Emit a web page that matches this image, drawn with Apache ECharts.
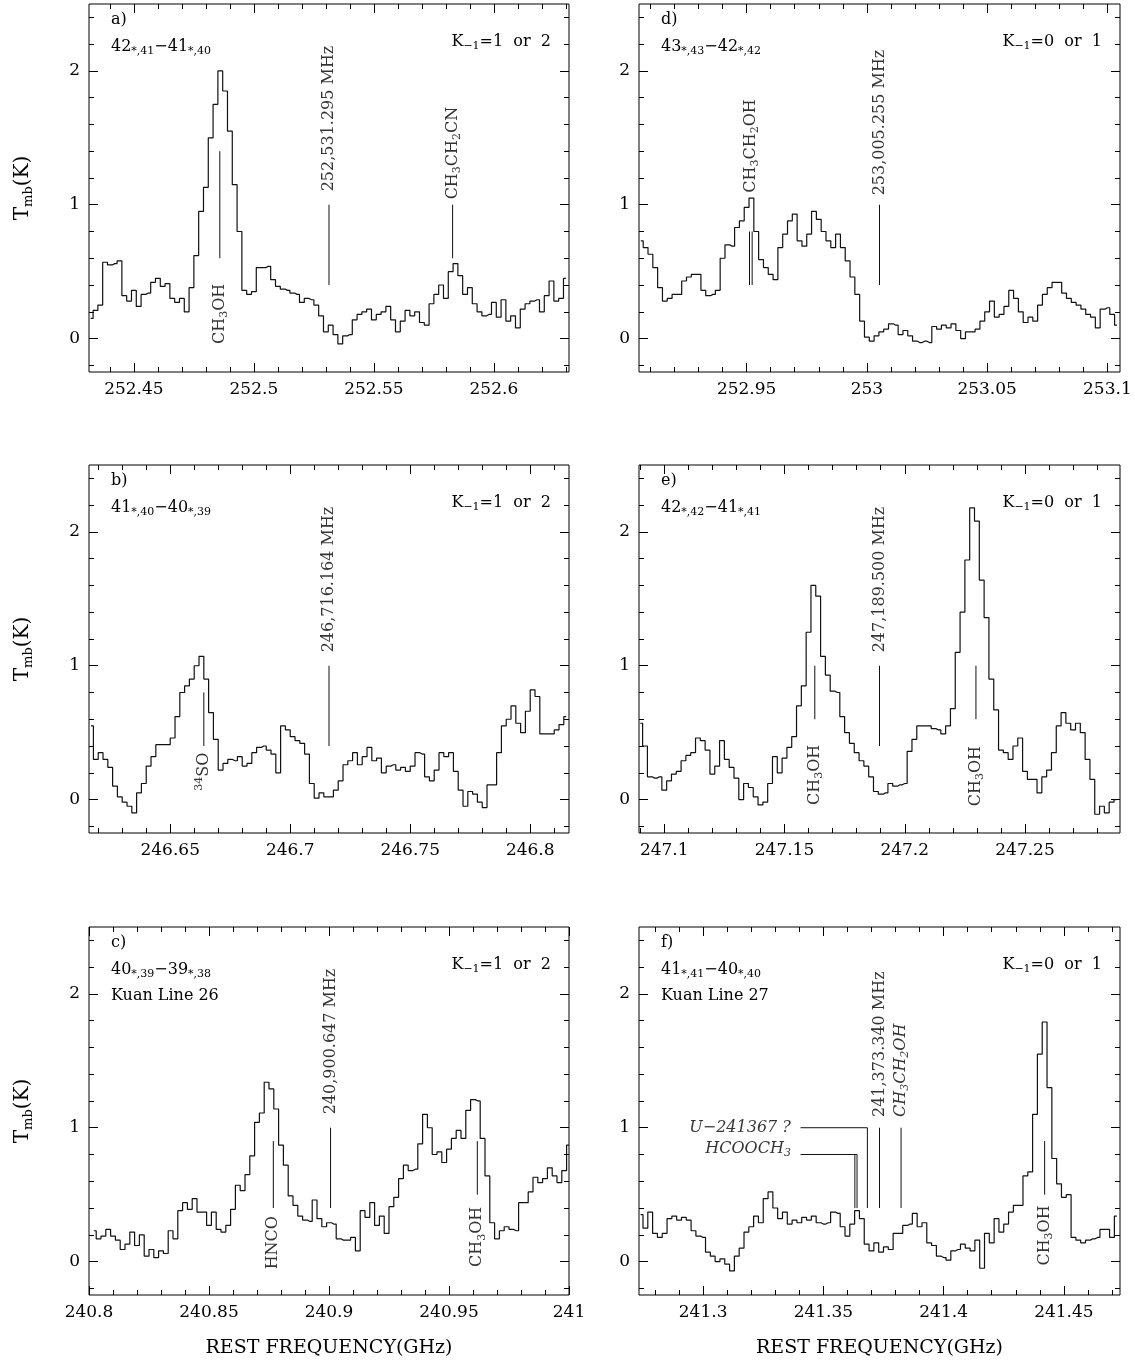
<!DOCTYPE html>
<html>
<head>
<meta charset="utf-8">
<title>Spectra panels a-f</title>
<script src="https://cdn.jsdelivr.net/npm/echarts@6/dist/echarts.min.js"></script>
<style>
  html, body { margin: 0; padding: 0; background: #fff; }
  #chart { width: 1135px; height: 1366px; }
</style>
</head>
<body>
<div id="chart"></div>
<script>
// channel width of every spectrum, GHz
var chanWidth = 0.002;

// y axis (Tmb, K)
var yRange = [-0.25, 2.5];
var yTicks = [0, 1, 2];

// panel a)
var rangeA = [252.4313, 252.6313];
var ticksA = [252.45, 252.5, 252.55, 252.6];
var startA = 252.432;
var specA = [0.15,0.21,0.25,0.57,0.55,0.56,0.58,0.32,0.28,0.36,
  0.24,0.33,0.34,0.42,0.45,0.39,0.41,0.30,0.27,0.30,
  0.20,0.38,0.62,0.95,1.13,1.50,1.75,2.00,1.85,1.55,
  1.15,0.80,0.36,0.33,0.35,0.53,0.53,0.54,0.44,0.39,
  0.37,0.36,0.34,0.33,0.27,0.30,0.29,0.25,0.17,0.05,
  0.10,0.03,-0.04,0.02,0.03,0.14,0.18,0.20,0.22,0.14,
  0.18,0.20,0.24,0.14,0.05,0.13,0.21,0.17,0.20,0.12,
  0.10,0.26,0.33,0.40,0.30,0.50,0.56,0.47,0.33,0.38,
  0.26,0.20,0.17,0.18,0.27,0.16,0.29,0.13,0.17,0.08,
  0.22,0.26,0.28,0.29,0.20,0.32,0.43,0.28,0.30,0.45];
var linesA = [
  [[252.4858, 0.6], [252.4858, 1.4]],
  [[252.531295, 0.4], [252.531295, 1.0]],
  [[252.5828, 0.6], [252.5828, 1.0]]
];
var labelsA = [
  {f: 252.4858, y: 0.41, dir: 'down', text: '{n|CH}{s|3}{n|OH}'},
  {f: 252.531295, y: 1.1, dir: 'up', text: '{n|252,531.295 MHz}'},
  {f: 252.5828, y: 1.04, dir: 'up', text: '{n|CH}{s|3}{n|CH}{s|2}{n|CN}'}
];

// panel d)
var rangeD = [252.90525, 253.10525];
var ticksD = [252.95, 253, 253.05, 253.1];
var startD = 252.906;
var specD = [0.73,0.68,0.63,0.53,0.38,0.28,0.30,0.33,0.33,0.43,
  0.46,0.48,0.48,0.36,0.32,0.33,0.36,0.60,0.70,0.69,
  0.83,0.88,0.98,1.05,0.80,0.59,0.53,0.48,0.44,0.68,
  0.78,0.88,0.93,0.73,0.69,0.78,0.95,0.89,0.80,0.73,
  0.68,0.78,0.68,0.58,0.46,0.33,0.13,0.01,-0.02,0.02,
  0.05,0.07,0.11,0.10,0.03,0.06,0.02,-0.02,-0.03,-0.02,
  -0.03,0.09,0.07,0.10,0.08,0.11,0.06,0.00,0.05,0.05,
  0.07,0.13,0.20,0.28,0.16,0.18,0.24,0.36,0.30,0.20,
  0.12,0.16,0.13,0.25,0.33,0.38,0.42,0.42,0.34,0.30,
  0.27,0.25,0.22,0.18,0.16,0.08,0.22,0.23,0.18,0.10];
var linesD = [
  [[252.9512, 0.4], [252.9512, 0.8]],
  [[252.9523, 0.4], [252.9523, 0.8]],
  [[253.005255, 0.4], [253.005255, 1.0]]
];
var labelsD = [
  {f: 252.9518, y: 1.09, dir: 'up', text: '{n|CH}{s|3}{n|CH}{s|2}{n|OH}'},
  {f: 253.005255, y: 1.07, dir: 'up', text: '{n|253,005.255 MHz}'}
];

// panel b)
var rangeB = [246.61616, 246.81616];
var ticksB = [246.65, 246.7, 246.75, 246.8];
var startB = 246.617;
var specB = [0.55,0.30,0.35,0.30,0.24,0.10,0.02,-0.02,-0.05,-0.10,
  0.05,0.12,0.25,0.32,0.41,0.41,0.41,0.46,0.62,0.80,
  0.85,0.90,1.00,1.07,0.90,0.65,0.45,0.22,0.27,0.30,
  0.29,0.32,0.25,0.27,0.35,0.39,0.40,0.37,0.34,0.20,
  0.55,0.52,0.47,0.44,0.42,0.34,0.12,0.01,0.05,0.02,
  0.02,0.07,0.14,0.26,0.29,0.35,0.26,0.32,0.39,0.29,
  0.31,0.20,0.25,0.26,0.22,0.24,0.21,0.25,0.35,0.34,
  0.17,0.14,0.22,0.35,0.32,0.35,0.21,0.07,-0.05,0.06,
  0.04,-0.02,-0.06,0.11,0.11,0.35,0.55,0.60,0.70,0.57,
  0.50,0.66,0.82,0.77,0.49,0.49,0.49,0.52,0.56,0.62];
var linesB = [
  [[246.664, 0.4], [246.664, 0.8]],
  [[246.716164, 0.4], [246.716164, 1.0]]
];
var labelsB = [
  {f: 246.664, y: 0.35, dir: 'down', text: '{p|34}{n|SO}'},
  {f: 246.716164, y: 1.1, dir: 'up', text: '{n|246,716.164 MHz}'}
];

// panel e)
var rangeE = [247.0895, 247.2895];
var ticksE = [247.1, 247.15, 247.2, 247.25];
var startE = 247.09;
var specE = [0.57,0.40,0.17,0.16,0.17,0.07,0.14,0.19,0.21,0.29,
  0.33,0.35,0.46,0.44,0.37,0.19,0.25,0.44,0.30,0.24,
  0.16,0.00,0.12,0.09,0.02,-0.04,-0.02,0.12,0.32,0.20,
  0.31,0.39,0.47,0.70,0.85,1.25,1.60,1.52,1.07,0.93,
  0.81,0.80,0.62,0.50,0.42,0.35,0.29,0.25,0.17,0.06,
  0.04,0.05,0.12,0.10,0.11,0.12,0.36,0.45,0.55,0.55,
  0.55,0.53,0.52,0.49,0.55,0.68,1.10,1.40,1.79,2.18,
  2.08,1.64,1.36,0.90,0.67,0.37,0.35,0.30,0.40,0.46,
  0.21,0.15,0.15,0.05,0.17,0.22,0.35,0.55,0.65,0.57,
  0.52,0.57,0.50,0.30,0.15,-0.11,-0.05,-0.10,-0.02,0.00];
var linesE = [
  [[247.1626, 0.6], [247.1626, 1.0]],
  [[247.1895, 0.4], [247.1895, 1.0]],
  [[247.2296, 0.6], [247.2296, 1.0]]
];
var labelsE = [
  {f: 247.1626, y: 0.41, dir: 'down', text: '{n|CH}{s|3}{n|OH}'},
  {f: 247.1895, y: 1.1, dir: 'up', text: '{n|247,189.500 MHz}'},
  {f: 247.2296, y: 0.4, dir: 'down', text: '{n|CH}{s|3}{n|OH}'}
];

// panel c)
var rangeC = [240.8, 241.0];
var ticksC = [240.8, 240.85, 240.9, 240.95, 241];
var startC = 240.802;
var specC = [0.23,0.17,0.19,0.24,0.19,0.16,0.09,0.13,0.22,0.12,
  0.20,0.04,0.09,0.03,0.08,0.06,0.23,0.17,0.38,0.44,
  0.39,0.47,0.37,0.37,0.27,0.37,0.24,0.22,0.27,0.39,
  0.57,0.53,0.65,0.79,1.04,1.11,1.34,1.29,1.14,0.87,
  0.72,0.49,0.42,0.34,0.31,0.30,0.46,0.32,0.26,0.29,
  0.28,0.17,0.16,0.16,0.18,0.08,0.38,0.33,0.44,0.27,
  0.34,0.21,0.41,0.48,0.62,0.72,0.68,0.69,0.88,1.10,
  1.00,0.80,0.82,0.74,0.84,0.92,0.98,0.92,1.13,1.21,
  1.20,0.92,0.64,0.29,0.17,0.23,0.26,0.24,0.23,0.44,
  0.44,0.52,0.63,0.59,0.62,0.70,0.64,0.59,0.68,0.87];
var linesC = [
  [[240.8768, 0.4], [240.8768, 0.9]],
  [[240.900647, 0.4], [240.900647, 1.0]],
  [[240.9618, 0.5], [240.9618, 0.9]]
];
var labelsC = [
  {f: 240.8768, y: 0.34, dir: 'down', text: '{n|HNCO}'},
  {f: 240.900647, y: 1.1, dir: 'up', text: '{n|240,900.647 MHz}'},
  {f: 240.9618, y: 0.41, dir: 'down', text: '{n|CH}{s|3}{n|OH}'}
];

// panel f)
var rangeF = [241.27334, 241.47334];
var ticksF = [241.3, 241.35, 241.4, 241.45];
var startF = 241.274;
var specF = [0.35,0.25,0.37,0.21,0.18,0.21,0.32,0.34,0.31,0.33,
  0.31,0.23,0.19,0.18,0.07,0.04,0.00,0.02,-0.02,-0.07,
  0.04,0.10,0.22,0.26,0.34,0.29,0.47,0.52,0.40,0.32,
  0.37,0.28,0.31,0.29,0.33,0.31,0.34,0.29,0.28,0.29,
  0.37,0.36,0.26,0.19,0.28,0.38,0.32,0.13,0.08,0.14,
  0.07,0.11,0.09,0.21,0.21,0.27,0.28,0.36,0.26,0.29,
  0.14,0.12,0.04,0.03,0.01,0.08,0.09,0.13,0.10,0.08,
  0.16,-0.05,0.21,0.14,0.32,0.22,0.28,0.37,0.42,0.42,
  0.64,0.67,1.10,1.55,1.79,1.30,0.77,0.58,0.48,0.50,
  0.18,0.16,0.14,0.16,0.17,0.18,0.24,0.24,0.18,0.34];
var linesF = [
  [[241.3405, 1.0], [241.3683, 1.0], [241.3683, 0.4]],
  [[241.3405, 0.8], [241.3640, 0.8], [241.3640, 0.4]],
  [[241.3631, 0.8], [241.3631, 0.4]],
  [[241.37334, 0.4], [241.37334, 1.0]],
  [[241.3823, 0.4], [241.3823, 1.0]],
  [[241.442, 0.5], [241.442, 0.9]]
];
var labelsF = [
  {f: 241.3365, y: 1.0, dir: 'left', text: '{i|U−241367 ?}'},
  {f: 241.3365, y: 0.84, dir: 'left', text: '{i|HCOOCH}{is|3}'},
  {f: 241.37334, y: 1.08, dir: 'up', text: '{n|241,373.340 MHz}'},
  {f: 241.3823, y: 1.08, dir: 'up', text: '{i|CH}{is|3}{i|CH}{is|2}{i|OH}'},
  {f: 241.442, y: 0.42, dir: 'down', text: '{n|CH}{s|3}{n|OH}'}
];

var FONT = 'DejaVu Serif';
var richText = {
  n: {fontFamily: FONT, fontSize: 16, fontWeight: 'normal', color: '#000', lineHeight: 20},
  s: {fontFamily: FONT, fontSize: 11, fontWeight: 'normal', color: '#000', lineHeight: 12, verticalAlign: 'bottom'},
  p: {fontFamily: FONT, fontSize: 11, fontWeight: 'normal', color: '#000', lineHeight: 12, verticalAlign: 'top'},
  i: {fontFamily: FONT, fontSize: 16, fontWeight: 'normal', fontStyle: 'italic', color: '#000', lineHeight: 20},
  is: {fontFamily: FONT, fontSize: 11, fontWeight: 'normal', fontStyle: 'italic', color: '#000', lineHeight: 12, verticalAlign: 'bottom'}
};

var panels = [
  {tag: 'a)', trans: '{n|42}{s|*,41}{n|−41}{s|*,40}', k: '1  or  2', kuan: null,
    range: rangeA, ticks: ticksA, start: startA, spec: specA, lines: linesA, labels: labelsA, row: 0, col: 0},
  {tag: 'd)', trans: '{n|43}{s|*,43}{n|−42}{s|*,42}', k: '0  or  1', kuan: null,
    range: rangeD, ticks: ticksD, start: startD, spec: specD, lines: linesD, labels: labelsD, row: 0, col: 1},
  {tag: 'b)', trans: '{n|41}{s|*,40}{n|−40}{s|*,39}', k: '1  or  2', kuan: null,
    range: rangeB, ticks: ticksB, start: startB, spec: specB, lines: linesB, labels: labelsB, row: 1, col: 0},
  {tag: 'e)', trans: '{n|42}{s|*,42}{n|−41}{s|*,41}', k: '0  or  1', kuan: null,
    range: rangeE, ticks: ticksE, start: startE, spec: specE, lines: linesE, labels: labelsE, row: 1, col: 1},
  {tag: 'c)', trans: '{n|40}{s|*,39}{n|−39}{s|*,38}', k: '1  or  2', kuan: 'Kuan Line 26',
    range: rangeC, ticks: ticksC, start: startC, spec: specC, lines: linesC, labels: labelsC, row: 2, col: 0},
  {tag: 'f)', trans: '{n|41}{s|*,41}{n|−40}{s|*,40}', k: '0  or  1', kuan: 'Kuan Line 27',
    range: rangeF, ticks: ticksF, start: startF, spec: specF, lines: linesF, labels: labelsF, row: 2, col: 1}
];

// layout
var gridLeft = [89, 639];
var gridWidth = [480, 481];
var gridTop = [4, 465, 927];
var gridHeight = 368;
var pageWidth = 1135;

function minorTicks(lo, hi, step, majors) {
  var out = [];
  for (var k = Math.ceil(lo / step - 1e-6); k * step <= hi + 1e-9; k++) {
    var v = +(k * step).toFixed(4);
    var isMajor = majors.some(function (m) { return Math.abs(m - v) < 1e-6; });
    if (!isMajor) out.push(v);
  }
  return out;
}

function tickAxis(gi, range, pos, values, len, withLabels) {
  var ax = {
    gridIndex: gi, type: 'value', position: pos, min: range[0], max: range[1],
    axisLine: {show: false, onZero: false}, splitLine: {show: false},
    axisTick: {show: true, inside: true, length: len, customValues: values, lineStyle: {color: '#000', width: 1}},
    axisLabel: {show: false}
  };
  if (withLabels) {
    ax.axisLabel = {
      show: true, customValues: values, color: '#000', fontFamily: FONT, fontSize: 17, margin: 9,
      formatter: function (v) { return String(parseFloat((+v).toFixed(3))); }
    };
  }
  return ax;
}

var option = {
  animation: false,
  backgroundColor: '#fff',
  title: [], grid: [], xAxis: [], yAxis: [], series: []
};

var yMinor = minorTicks(yRange[0], yRange[1], 0.2, yTicks);

panels.forEach(function (p, gi) {
  var left = gridLeft[p.col], width = gridWidth[p.col], top = gridTop[p.row];
  option.grid.push({left: left, top: top, width: width, height: gridHeight,
    show: true, borderColor: '#000', borderWidth: 1, backgroundColor: 'transparent'});

  var xi = option.xAxis.length, yi = option.yAxis.length;
  var xMinor = minorTicks(p.range[0], p.range[1], 0.01, p.ticks);
  var xMain = tickAxis(gi, p.range, 'bottom', p.ticks, 9, true);
  if (p.row === 2) {
    xMain.name = 'REST FREQUENCY(GHz)';
    xMain.nameLocation = 'middle';
    xMain.nameGap = 44;
    xMain.nameTextStyle = {color: '#000', fontFamily: FONT, fontSize: 19};
  }
  option.xAxis.push(xMain,
    tickAxis(gi, p.range, 'bottom', xMinor, 5, false),
    tickAxis(gi, p.range, 'top', p.ticks, 9, false),
    tickAxis(gi, p.range, 'top', xMinor, 5, false));

  var yMain = tickAxis(gi, yRange, 'left', yTicks, 9, true);
  if (p.col === 0) {
    yMain.name = '{n|T}{s|mb}{n|(K)}';
    yMain.nameLocation = 'middle';
    yMain.nameGap = 54;
    yMain.nameRotate = 90;
    yMain.nameTextStyle = {rich: {
      n: {fontFamily: FONT, fontSize: 20, color: '#000', lineHeight: 24},
      s: {fontFamily: FONT, fontSize: 13, color: '#000', lineHeight: 14, verticalAlign: 'bottom'}
    }};
  }
  option.yAxis.push(yMain,
    tickAxis(gi, yRange, 'left', yMinor, 5, false),
    tickAxis(gi, yRange, 'right', yTicks, 9, false),
    tickAxis(gi, yRange, 'right', yMinor, 5, false));

  // spectrum
  option.series.push({
    type: 'line', xAxisIndex: xi, yAxisIndex: yi, step: 'middle', symbol: 'none', silent: true,
    lineStyle: {color: '#111', width: 1.2},
    data: p.spec.map(function (v, i) { return [p.start + i * chanWidth, v]; })
  });

  // marker lines
  option.series.push({
    type: 'lines', coordinateSystem: 'cartesian2d', xAxisIndex: xi, yAxisIndex: yi,
    polyline: true, silent: true,
    lineStyle: {color: '#111', width: 1, opacity: 1},
    data: p.lines.map(function (c) { return {coords: c}; })
  });

  // marker labels
  option.series.push({
    type: 'scatter', xAxisIndex: xi, yAxisIndex: yi, symbolSize: 1, silent: true,
    itemStyle: {color: 'rgba(0,0,0,0)'},
    label: {show: true, position: 'inside', rich: richText,
      formatter: function (q) { return q.data.text; }},
    data: p.labels.map(function (l) {
      var lab = {rotate: 90, align: 'left', verticalAlign: 'middle'};
      if (l.dir === 'down') lab.align = 'right';
      if (l.dir === 'left') { lab.rotate = 0; lab.align = 'right'; }
      return {value: [l.f, l.y], text: l.text, label: lab};
    })
  });

  // panel texts
  var tx = left + 22;
  var ts = {fontWeight: 'normal', rich: richText};
  option.title.push({text: '{n|' + p.tag + '}', left: tx, top: top + 6, padding: 0, textStyle: ts});
  option.title.push({text: p.trans, left: tx, top: top + 33, padding: 0, textStyle: ts});
  option.title.push({text: '{n|K}{s|−1}{n|=' + p.k + '}', right: pageWidth - (left + width - 18), top: top + 28,
    padding: 0, textStyle: ts});
  if (p.kuan) {
    option.title.push({text: '{n|' + p.kuan + '}', left: tx, top: top + 59, padding: 0, textStyle: ts});
  }
});

var chart = echarts.init(document.getElementById('chart'));
chart.setOption(option);
</script>
</body>
</html>
